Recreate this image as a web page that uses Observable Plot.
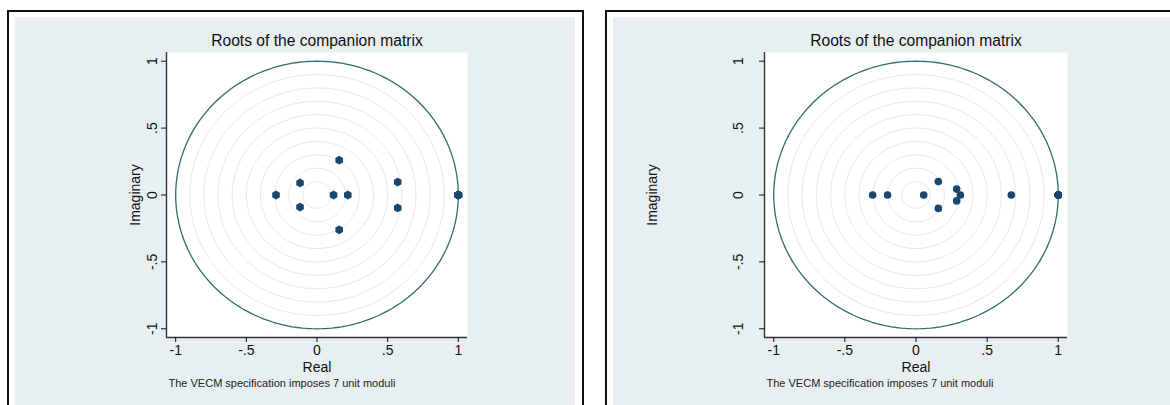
<!DOCTYPE html>
<html>
<head>
<meta charset="utf-8">
<script src="https://cdn.jsdelivr.net/npm/d3@7"></script>
<script src="https://cdn.jsdelivr.net/npm/@observablehq/plot@0.6"></script>
<style>
  html, body { margin: 0; padding: 0; background: #fff; }
  body { width: 1170px; height: 405px; overflow: hidden; position: relative; font-family: "Liberation Sans", Arial, sans-serif; }
  .box { position: absolute; box-sizing: border-box; border: 2px solid #111; }
  .bg { position: absolute; background: #e8eff1; }
  .bg svg { display: block; }
</style>
</head>
<body>
<div class="box" style="left:7px; top:10px; width:577px; height:420px;"></div>
<div class="box" style="left:605px; top:10px; width:600px; height:420px;"></div>
<div class="bg" id="left" style="left:15px; top:17px; width:560px; height:388px;"></div>
<div class="bg" id="right" style="left:613px; top:17px; width:557px; height:388px;"></div>
<script>
// ---- data ----
const tickValues = [-1, -0.5, 0, 0.5, 1];
const tickLabels = ["-1", "-.5", "0", ".5", "1"];
const gridRadii = [0.1, 0.2, 0.3, 0.4, 0.5, 0.6, 0.7, 0.8, 0.9];
const unitRadius = [1];

const titleText = "Roots of the companion matrix";
const captionText = "The VECM specification imposes 7 unit moduli";

const leftReal = [1, 1, 1, 1, 1, 1, 1, 0.571, 0.571, 0.157, 0.157, -0.12, -0.12, 0.218, 0.117, -0.29];
const leftImag = [0, 0, 0, 0, 0, 0, 0, 0.097, -0.097, 0.26, -0.26, 0.09, -0.09, 0, 0, 0];

const rightReal = [1, 1, 1, 1, 1, 1, 1, 0.67, 0.312, 0.286, 0.286, 0.157, 0.157, 0.054, -0.2, -0.305];
const rightImag = [0, 0, 0, 0, 0, 0, 0, 0, 0, 0.044, -0.044, 0.1, -0.1, 0, 0, 0];

// ---- helpers ----
function circlePoints(radii) {
  const pts = [];
  for (const r of radii) {
    for (let deg = 0; deg <= 360; deg += 2) {
      const a = deg * Math.PI / 180;
      pts.push({ r, x: r * Math.cos(a), y: r * Math.sin(a) });
    }
  }
  return pts;
}
const fmt = d => tickLabels[tickValues.indexOf(d)];
const dom = [-1.065, 1.065];

function chart({ real, imag, width, marginRight, symbol, yLabelOffset, yTickPadding }) {
  const roots = real.map((re, i) => ({ re, im: imag[i] }));
  return Plot.plot({
    width, height: 388,
    marginLeft: 151, marginRight, marginTop: 35, marginBottom: 68,
    x: { domain: dom },
    y: { domain: dom },
    style: { fontFamily: "'Liberation Sans', Arial, sans-serif", fontSize: "14px", background: "transparent", color: "#111", overflow: "visible" },
    marks: [
      Plot.frame({ fill: "white", stroke: null }),
      Plot.line(circlePoints(gridRadii), { x: "x", y: "y", z: "r", stroke: "#e0ebed", strokeWidth: 1 }),
      Plot.line(circlePoints(unitRadius), { x: "x", y: "y", z: "r", stroke: "#2e6f69", strokeWidth: 1.3 }),
      Plot.dot(roots, { x: "re", y: "im", r: 3.8, fill: "#1a476f", stroke: null, symbol }),
      Plot.ruleX([dom[0]], { stroke: "#333", strokeWidth: 1.4 }),
      Plot.ruleY([dom[0]], { stroke: "#333", strokeWidth: 1.4 }),
      Plot.axisX({ ticks: tickValues, tickFormat: fmt, tickSize: 5, tickPadding: 3, fontSize: 14,
        label: "Real", labelAnchor: "center", labelArrow: "none", labelOffset: 34 }),
      Plot.axisY({ ticks: tickValues, tickFormat: fmt, tickRotate: -90, tickSize: 5, tickPadding: yTickPadding, fontSize: 14,
        label: "Imaginary", labelAnchor: "center", labelArrow: "none", labelOffset: yLabelOffset }),
      Plot.text([titleText], { frameAnchor: "top", lineAnchor: "middle", dy: -11.5, fontSize: 15.6, fill: "#111" }),
      Plot.text([captionText], { frameAnchor: "bottom-left", lineAnchor: "middle", textAnchor: "start", dx: 2, dy: 46, fontSize: 11, fill: "#222" })
    ]
  });
}

document.getElementById("left").append(chart({
  real: leftReal, imag: leftImag, width: 560, marginRight: 108, symbol: "hexagon", yLabelOffset: 36, yTickPadding: 5
}));
document.getElementById("right").append(chart({
  real: rightReal, imag: rightImag, width: 557, marginRight: 103, symbol: "circle", yLabelOffset: 117, yTickPadding: 17
}));
</script>
</body>
</html>
